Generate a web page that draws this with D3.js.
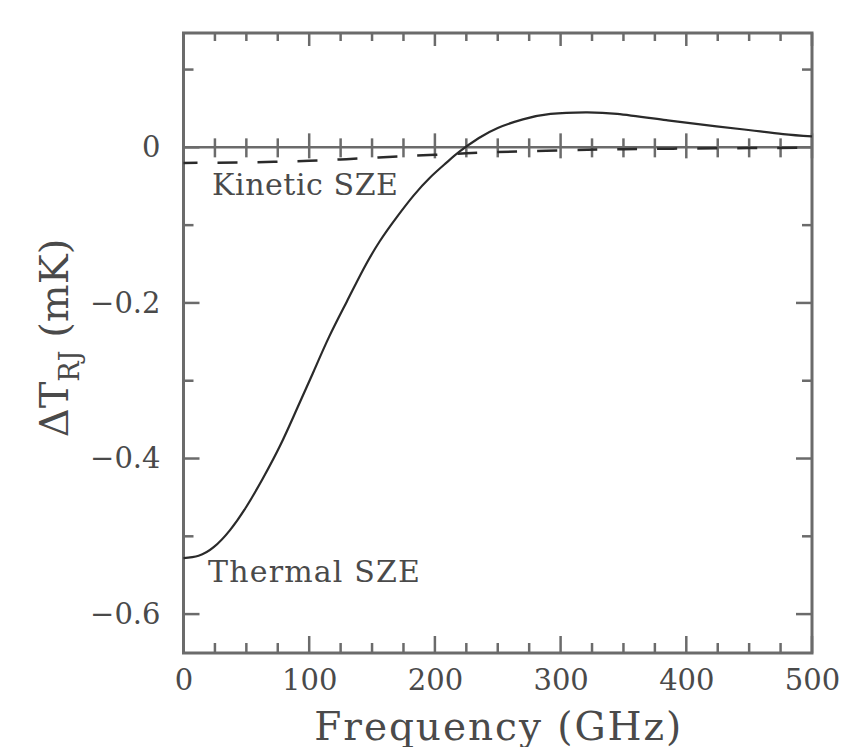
<!DOCTYPE html>
<html>
<head>
<meta charset="utf-8">
<script src="https://cdn.jsdelivr.net/npm/d3@7"></script>
<style>
  body { margin: 0; background: #fff; }
  svg { display: block; }
  text { font-family: "DejaVu Serif", serif; fill: #4a4a4a; }
</style>
</head>
<body>
<div id="chart"></div>
<script>
// frequency grid (GHz) and SZE spectra (mK)
var freqThermal = [0, 12, 24, 37, 50, 63, 77, 90, 103, 116, 130, 143, 156, 170, 183, 196, 209, 220, 235, 250, 270, 292, 320, 345, 384, 424, 451, 477, 500];
var thermalSZE = [-0.528, -0.525, -0.514, -0.492, -0.462, -0.426, -0.383, -0.337, -0.290, -0.243, -0.198, -0.157, -0.121, -0.089, -0.062, -0.039, -0.020, -0.005, 0.012, 0.025, 0.036, 0.043, 0.045, 0.043, 0.035, 0.027, 0.022, 0.017, 0.014];

var freqKinetic = [0, 25, 50, 75, 100, 125, 150, 175, 200, 225, 250, 300, 350, 400, 450, 500];
var kineticSZE = [-0.020, -0.0198, -0.0193, -0.0185, -0.0172, -0.0155, -0.0135, -0.0115, -0.0095, -0.0077, -0.006, -0.0038, -0.0024, -0.0015, -0.0009, -0.0005];

var xMajor = [0, 100, 200, 300, 400, 500];
var xMinor = [25, 50, 75, 125, 150, 175, 225, 250, 275, 325, 350, 375, 425, 450, 475];
var yMajor = [0, -0.2, -0.4, -0.6];
var yMinor = [0.1, -0.1, -0.3, -0.5];

var width = 846, height = 747;
var plotLeft = 183.5, plotRight = 812, plotTop = 33, plotBottom = 653;
var axisColor = "#6b6b6b";

var svg = d3.select("#chart")
  .append("svg")
    .attr("width", width)
    .attr("height", height);

var x = d3.scaleLinear().domain([0, 500]).range([plotLeft, plotRight]);
var y = d3.scaleLinear().domain([-0.65, 0.147]).range([plotBottom, plotTop]);

function tickLines(vals, x1, y1, x2, y2) {
  svg.append("g").selectAll("line")
    .data(vals)
    .enter()
    .append("line")
      .attr("x1", x1).attr("y1", y1)
      .attr("x2", x2).attr("y2", y2)
      .attr("stroke", axisColor)
      .attr("stroke-width", 2.5);
}

// ticks: top (down), bottom (up), left (right), right (left)
tickLines(xMajor, function(d) {return x(d)}, plotTop, function(d) {return x(d)}, plotTop + 13);
tickLines(xMinor, function(d) {return x(d)}, plotTop, function(d) {return x(d)}, plotTop + 8);
tickLines(xMajor, function(d) {return x(d)}, plotBottom, function(d) {return x(d)}, plotBottom - 17);
tickLines(xMinor, function(d) {return x(d)}, plotBottom, function(d) {return x(d)}, plotBottom - 10);
tickLines(yMajor, plotLeft, function(d) {return y(d)}, plotLeft + 16, function(d) {return y(d)});
tickLines(yMinor, plotLeft, function(d) {return y(d)}, plotLeft + 10, function(d) {return y(d)});
tickLines(yMajor, plotRight, function(d) {return y(d)}, plotRight - 16, function(d) {return y(d)});
tickLines(yMinor, plotRight, function(d) {return y(d)}, plotRight - 10, function(d) {return y(d)});

// zero line with its own ticks crossing it
svg.append("line")
  .attr("x1", plotLeft).attr("x2", plotRight)
  .attr("y1", y(0)).attr("y2", y(0))
  .attr("stroke", axisColor)
  .attr("stroke-width", 2.5);
tickLines(xMajor, function(d) {return x(d)}, y(0) - 14, function(d) {return x(d)}, y(0) + 11);
tickLines(xMinor, function(d) {return x(d)}, y(0) - 9, function(d) {return x(d)}, y(0) + 10);

// frame
svg.append("rect")
  .attr("x", plotLeft).attr("y", plotTop)
  .attr("width", plotRight - plotLeft).attr("height", plotBottom - plotTop)
  .attr("fill", "none")
  .attr("stroke", axisColor)
  .attr("stroke-width", 3);

// tick labels through d3 axes (ticks hidden, drawn above)
var xAxis = svg.append("g")
  .attr("transform", "translate(0," + plotBottom + ")")
  .call(d3.axisBottom(x).tickValues(xMajor).tickSize(0).tickPadding(16).tickFormat(d3.format("d")));
var yAxis = svg.append("g")
  .attr("transform", "translate(" + plotLeft + ",0)")
  .call(d3.axisLeft(y).tickValues(yMajor).tickSize(0).tickPadding(23)
    .tickFormat(function(d) {return d === 0 ? "0" : d3.format(".1f")(d)}));
[xAxis, yAxis].forEach(function(g) {
  g.select(".domain").remove();
  g.selectAll("text")
    .attr("font-family", "DejaVu Serif")
    .attr("font-size", 29)
    .attr("fill", "#4a4a4a");
});

// curves
var line = d3.line()
  .x(function(d) {return x(d[0])})
  .y(function(d) {return y(d[1])})
  .curve(d3.curveNatural);

svg.append("path")
  .datum(d3.zip(freqKinetic, kineticSZE))
  .attr("d", line)
  .attr("fill", "none")
  .attr("stroke", "#2a2a2a")
  .attr("stroke-width", 2.5)
  .attr("stroke-dasharray", "20,20")
  .attr("stroke-dashoffset", 6);

svg.append("path")
  .datum(d3.zip(freqThermal, thermalSZE))
  .attr("d", line)
  .attr("fill", "none")
  .attr("stroke", "#2a2a2a")
  .attr("stroke-width", 2.2);

// annotations
svg.append("text")
  .attr("x", 212).attr("y", 195)
  .attr("font-size", 30)
  .attr("textLength", 186)
  .text("Kinetic SZE");
svg.append("text")
  .attr("x", 208).attr("y", 582)
  .attr("font-size", 30)
  .attr("textLength", 212)
  .text("Thermal SZE");

// axis titles
svg.append("text")
  .attr("x", (plotLeft + plotRight) / 2).attr("y", 740)
  .attr("text-anchor", "middle")
  .attr("font-size", 39)
  .attr("textLength", 367)
  .text("Frequency (GHz)");

var yTitle = svg.append("text")
  .attr("transform", "translate(68,338) rotate(-90)")
  .attr("text-anchor", "middle")
  .attr("font-size", 40);
yTitle.append("tspan").text("\u0394T");
yTitle.append("tspan").attr("font-size", 27).attr("dy", 11).text("RJ");
yTitle.append("tspan").attr("dy", -11).text(" (mK)");
</script>
</body>
</html>
